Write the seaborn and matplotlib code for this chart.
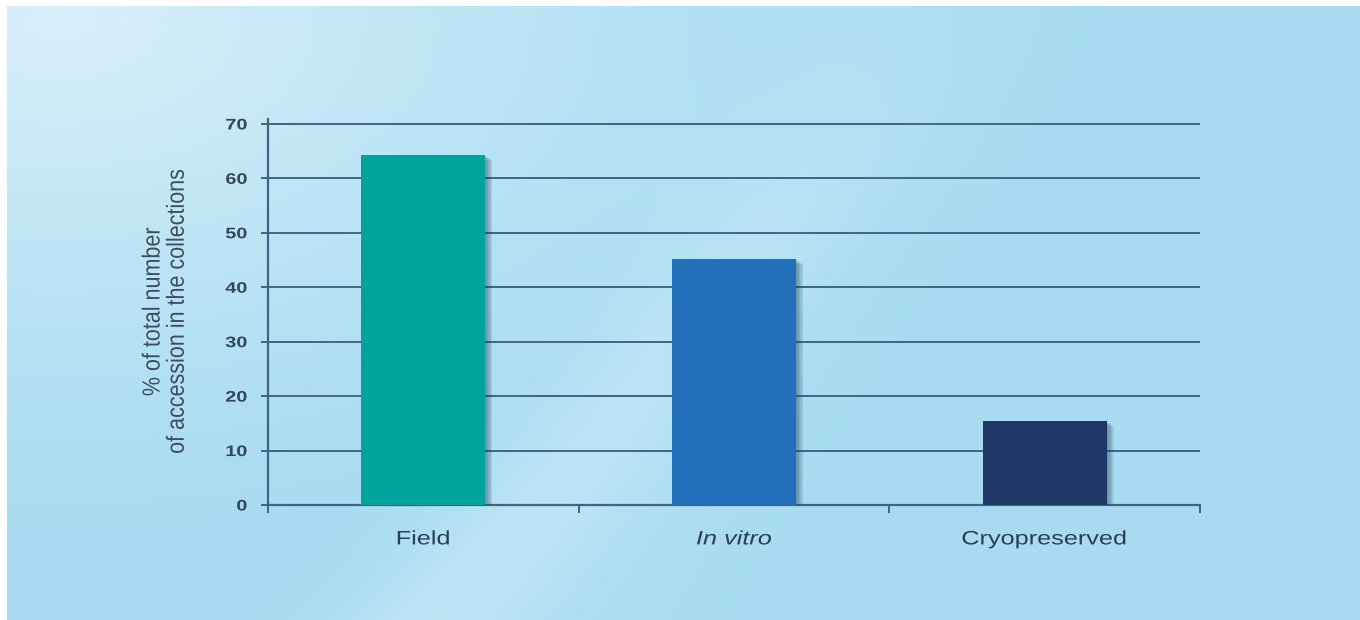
import numpy as np
import pandas as pd
import matplotlib
matplotlib.use("Agg")
import matplotlib.pyplot as plt
import matplotlib.patheffects as pe
from matplotlib.transforms import Affine2D
import seaborn as sns

# Data
categories = ["Field", "In vitro", "Cryopreserved"]
values = [64.3, 45.2, 15.4]
bar_colors = ["#00a39b", "#236fb9", "#203868"]
y_ticks = [0, 10, 20, 30, 40, 50, 60, 70]

df = pd.DataFrame({"storage": categories, "share": values})

sns.set_theme(style="white")
plt.rcParams["font.family"] = ["Liberation Sans", "DejaVu Sans"]


class WideText(pe.AbstractPathEffect):
    """Draw glyphs widened horizontally, anchored at the centre or right edge."""

    def __init__(self, sx=1.3, anchor="center"):
        super().__init__()
        self.sx = sx
        self.anchor = anchor

    def draw_path(self, renderer, gc, tpath, affine, rgbFace=None):
        ext = tpath.get_extents(affine)
        cx = ext.x1 if self.anchor == "right" else 0.5 * (ext.x0 + ext.x1)
        a = affine + Affine2D().translate(-cx, 0).scale(self.sx, 1).translate(cx, 0)
        renderer.draw_path(gc, tpath, a, rgbFace)


W, H = 1360, 620
fig = plt.figure(figsize=(W / 100, H / 100), dpi=100)

# Soft blue backdrop, lighter toward the upper left, with faint light streaks
bg = fig.add_axes([0, 0, 1, 1], zorder=-10)
yy, xx = np.mgrid[0:H, 0:W]
base = np.array([0.660, 0.862, 0.948])
light = np.array([0.88, 0.950, 0.985])
d = np.sqrt(((xx - 60) / 900.0) ** 2 + ((yy - 20) / 520.0) ** 2)
glow = np.clip(1.0 - d, 0, 1) ** 1.3 * 0.85
s1 = np.exp(-(((xx - 0.9 * (H - yy)) - 430) / 90.0) ** 2) * (yy / H) * 0.35
s2 = np.exp(-(((xx + 0.6 * yy) - 900) / 120.0) ** 2) * 0.12
t = np.clip(glow + s1 + s2, 0, 1)[..., None]
img = base * (1 - t) + light * t
img[:6, :, :] = 1.0
img[:, :7, :] = 1.0
bg.imshow(img, aspect="auto", extent=[0, W, H, 0], interpolation="bilinear")
bg.set_axis_off()

# value axis runs a little past the last gridline
y_top = 70.9
ax = fig.add_axes([268 / W, 1 - 505 / H, (1200 - 268) / W, (505 - 119) / H])
ax.patch.set_alpha(0)

sns.barplot(data=df, x="storage", y="share", hue="storage", palette=bar_colors,
            width=0.4, saturation=1, legend=False, ax=ax, zorder=3)

# soft drop shadow on the lower right of each bar
shadow = [pe.SimplePatchShadow(offset=(k, -0.7 * k), shadow_rgbFace="#1d3f5c", alpha=0.11)
          for k in (1, 2, 3, 4, 5)] + [pe.Normal()]
for p in ax.patches:
    p.set_linewidth(0)
    p.set_path_effects(shadow)

line_col = "#3d6585"
text_col = "#2c3e55"
ax.set_ylim(0, y_top)
ax.set_xlim(-0.5, 2.5)
ax.set_yticks(y_ticks)
ax.set_yticklabels([str(v) for v in y_ticks], fontsize=11, color="#34465c",
                   fontweight="bold")
for lab in ax.get_yticklabels():
    lab.set_path_effects([WideText(1.3, "right")])
ax.yaxis.grid(True, color=line_col, linewidth=1.4, zorder=1)
ax.set_axisbelow(True)

for side in ["top", "right"]:
    ax.spines[side].set_visible(False)
for side in ["left", "bottom"]:
    ax.spines[side].set_color(line_col)
    ax.spines[side].set_linewidth(1.6)

ax.tick_params(axis="y", which="major", direction="out", length=5, width=1.4,
               color=line_col, pad=10, left=True)
ax.set_xticks([0, 1, 2])
ax.set_xticklabels(categories, fontsize=14, color=text_col)
ax.get_xticklabels()[1].set_fontstyle("italic")
for lab in ax.get_xticklabels():
    lab.set_path_effects([WideText(1.3, "center")])
ax.tick_params(axis="x", which="major", length=0, pad=19)
ax.set_xticks([-0.5, 0.5, 1.5, 2.5], minor=True)
ax.tick_params(axis="x", which="minor", direction="out", length=6, width=1.4,
               color=line_col, bottom=True)

ax.set_xlabel("")
ax.set_ylabel("% of total number\nof accession in the collections",
              fontsize=15.5, color="#3d4e62", linespacing=1.2, va="center")
ax.yaxis.label.set_path_effects([WideText(1.15, "center")])
ax.yaxis.set_label_coords(-0.1105, 0.5)

fig.savefig("out.png", dpi=100)
